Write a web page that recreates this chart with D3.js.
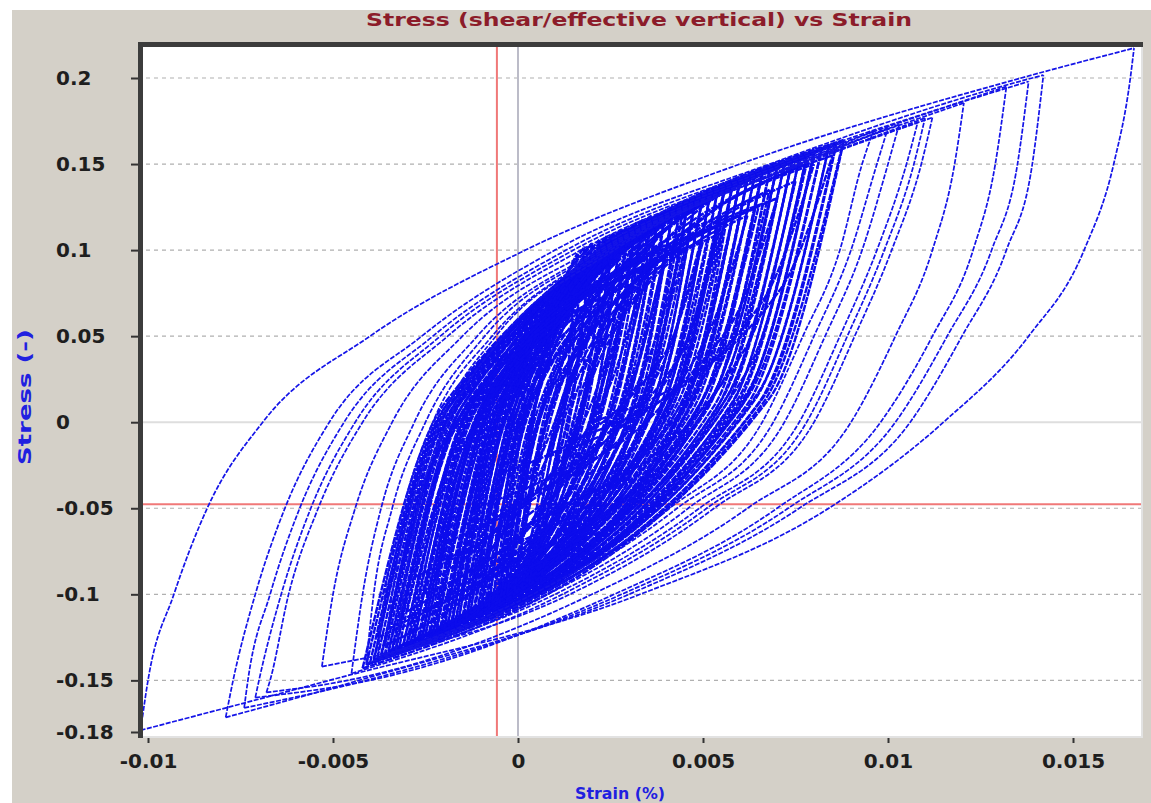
<!DOCTYPE html>
<html>
<head>
<meta charset="utf-8">
<title>Stress vs Strain</title>
<style>
body { margin: 0; background: #fff; }
.lbl { font-family: 'DejaVu Sans', sans-serif; font-weight: bold; }
</style>
</head>
<body>
<svg width="1151" height="803"></svg>
<script src="https://d3js.org/d3.v7.min.js"></script>
<script>

// ---- axis ticks ----
var yTicks = [0.2, 0.15, 0.1, 0.05, 0, -0.05, -0.1, -0.15, -0.18];
var yTickLabels = ["0.2", "0.15", "0.1", "0.05", "0", "-0.05", "-0.1", "-0.15", "-0.18"];
var xTicks = [-0.01, -0.005, 0, 0.005, 0.01, 0.015];
var xTickLabels = ["-0.01", "-0.005", "0", "0.005", "0.01", "0.015"];
var gridLevels = [0.2, 0.15, 0.1, 0.05, -0.05, -0.1, -0.15];
var cursorStrain = -0.00057, cursorStress = -0.0477;

// ---- large loops: reversal points + strain where each branch crosses a stress level ----
var upLevels = [-0.15, -0.1, -0.05, 0, 0.05, 0.1, 0.15, 0.2];
var downLevels = [0.2, 0.15, 0.1, 0.05, 0, -0.05, -0.1, -0.15];
var bigBottom = [[-0.0102, -0.179], [-0.0079, -0.1715], [-0.0074, -0.166], [-0.0071, -0.160],
  [-0.0068, -0.157], [-0.0053, -0.142], [-0.0045, -0.146], [-0.0041, -0.140],
  [-0.0038, -0.137], [-0.0036, -0.135], [-0.0033, -0.133]];
var bigTop = [[0.01665, 0.2174], [0.0142, 0.2017], [0.0138, 0.198], [0.0132, 0.195],
  [0.01205, 0.1855], [0.0112, 0.177], [0.0110, 0.1767], [0.0108, 0.174],
  [0.0103, 0.173], [0.0100, 0.171], [0.0096, 0.169]];
var bigUp = [
  [-0.0100, -0.0093, -0.0084, -0.0069, -0.0040, 0.0002, 0.0060, 0.0136],
  [-0.0077, -0.0071, -0.0063, -0.0051, -0.0026, 0.0010, 0.0068, 0.0139],
  [-0.0073, -0.0067, -0.0059, -0.0047, -0.0023, 0.0013, 0.0070, null],
  [-0.0070, -0.0064, -0.0056, -0.0044, -0.0021, 0.0015, 0.0072, null],
  [-0.0067, -0.0062, -0.0054, -0.0042, -0.0019, 0.0017, 0.0074, null],
  [null, -0.0050, -0.0044, -0.0034, -0.0015, 0.0020, 0.0076, null],
  [null, -0.0042, -0.0037, -0.0028, -0.0011, 0.0022, 0.0077, null],
  [null, -0.0039, -0.0034, -0.0025, -0.0009, 0.0023, 0.0077, null],
  [null, -0.0036, -0.0031, -0.0023, -0.0007, 0.0024, 0.0076, null],
  [null, -0.0034, -0.0029, -0.0021, -0.0006, 0.0025, 0.0076, null],
  [null, -0.0031, -0.0027, -0.0019, -0.0004, 0.0026, 0.0075, null]
];
var bigDown = [
  [0.01655, 0.0161, 0.0153, 0.0138, 0.0115, 0.0084, 0.0033, -0.0051],
  [null, 0.0139, 0.0132, 0.0120, 0.0106, 0.0076, 0.0030, -0.0043],
  [null, 0.0135, 0.0128, 0.0116, 0.0102, 0.0073, 0.0028, -0.0041],
  [null, 0.0129, 0.0123, 0.0112, 0.0098, 0.0070, 0.0026, -0.0040],
  [null, 0.0118, 0.0112, 0.0102, 0.0090, 0.0062, 0.0020, -0.0046],
  [null, 0.0109, 0.0101, 0.0091, 0.0080, 0.0053, 0.0014, null],
  [null, 0.0107, 0.0099, 0.0089, 0.0078, 0.0051, 0.0012, null],
  [null, 0.0105, 0.0097, 0.0087, 0.0076, 0.0049, 0.0010, null],
  [null, 0.0100, 0.0093, 0.0083, 0.0072, 0.0046, 0.0008, null],
  [null, 0.0097, 0.0090, 0.0080, 0.0069, 0.0043, 0.0006, null],
  [null, 0.0093, 0.0087, 0.0077, 0.0066, 0.0041, 0.0004, null]
];

// ---- dense core loops: bottom / top reversal, strain of up & down branch at mid stress ----
var coreBottom = [[-0.0040, -0.140], [-0.0038, -0.137], [-0.0036, -0.136], [-0.0035, -0.134], [-0.0033, -0.133],
  [-0.0032, -0.130], [-0.0030, -0.131], [-0.0029, -0.128], [-0.0028, -0.127], [-0.0027, -0.129],
  [-0.0026, -0.125], [-0.0025, -0.124], [-0.0024, -0.126], [-0.0023, -0.122], [-0.0022, -0.121],
  [-0.0021, -0.123], [-0.0020, -0.119], [-0.0019, -0.118], [-0.0018, -0.120], [-0.0017, -0.116],
  [-0.0016, -0.115], [-0.0015, -0.117], [-0.0014, -0.113], [-0.0013, -0.112], [-0.0012, -0.114],
  [-0.0011, -0.110], [-0.0010, -0.109], [-0.0009, -0.111], [-0.0008, -0.107], [-0.0007, -0.106],
  [-0.0006, -0.108], [-0.0005, -0.104], [-0.0004, -0.103], [-0.0003, -0.105], [-0.0002, -0.101],
  [0.0000, -0.100], [0.0002, -0.098], [0.0004, -0.096], [-0.0042, -0.143], [-0.0039, -0.139],
  [-0.0037, -0.137], [-0.0034, -0.132], [-0.0031, -0.130], [-0.0026, -0.125], [-0.0022, -0.121],
  [-0.0018, -0.118], [-0.0014, -0.114], [-0.0010, -0.110], [-0.0006, -0.107], [-0.0002, -0.103],
  [-0.0020, -0.080], [-0.0015, -0.060], [-0.0010, -0.090], [-0.0025, -0.100], [0.0000, -0.070],
  [-0.0030, -0.110], [0.0005, -0.040], [-0.0005, -0.085], [0.0010, -0.050], [-0.0035, -0.120],
  [-0.0041, -0.141], [-0.0039, -0.138], [-0.0037, -0.135], [-0.0035, -0.133], [-0.0034, -0.134],
  [-0.0033, -0.131], [-0.0031, -0.129], [-0.0030, -0.128], [-0.0029, -0.130], [-0.0028, -0.126],
  [-0.0027, -0.125], [-0.0026, -0.127], [-0.0025, -0.123], [-0.0024, -0.122], [-0.0023, -0.124],
  [-0.0022, -0.120], [-0.0021, -0.119], [-0.0020, -0.121], [-0.0019, -0.117], [-0.0018, -0.116],
  [-0.0017, -0.118], [-0.0016, -0.114], [-0.0015, -0.113], [-0.0014, -0.115], [-0.0013, -0.111],
  [-0.0012, -0.110], [-0.0011, -0.112], [-0.0010, -0.108], [-0.0009, -0.107], [-0.0008, -0.109],
  [-0.0007, -0.105], [-0.0006, -0.104], [-0.0005, -0.106], [-0.0004, -0.102], [-0.0003, -0.101],
  [-0.0001, -0.099], [0.0001, -0.097], [0.0003, -0.095], [0.0006, -0.094], [-0.0038, -0.125],
  [-0.0032, -0.115], [-0.0028, -0.090], [-0.0020, -0.070], [-0.0012, -0.050], [-0.0005, -0.030],
  [0.0002, -0.060], [0.0008, -0.020], [-0.0015, -0.095], [-0.0008, -0.080], [0.0015, -0.010],
  [-0.0025, -0.110], [0.0000, -0.085], [-0.0036, -0.130], [0.0012, -0.030], [-0.0018, -0.100],
  [0.0005, -0.075], [-0.0010, -0.060], [0.0020, 0.000], [-0.0022, -0.090], [-0.0003, -0.090]];
var coreTop = [[0.0086, 0.162], [0.0082, 0.158], [0.0078, 0.155], [0.0084, 0.160], [0.0074, 0.152],
  [0.0070, 0.149], [0.0080, 0.156], [0.0066, 0.146], [0.0062, 0.142], [0.0076, 0.153],
  [0.0058, 0.138], [0.0072, 0.150], [0.0054, 0.135], [0.0068, 0.146], [0.0050, 0.132],
  [0.0064, 0.143], [0.0046, 0.128], [0.0060, 0.140], [0.0042, 0.125], [0.0056, 0.137],
  [0.0038, 0.121], [0.0052, 0.134], [0.0034, 0.118], [0.0048, 0.130], [0.0030, 0.114],
  [0.0044, 0.127], [0.0026, 0.110], [0.0040, 0.123], [0.0022, 0.106], [0.0036, 0.120],
  [0.0032, 0.116], [0.0018, 0.102], [0.0028, 0.112], [0.0024, 0.108], [0.0020, 0.104],
  [0.0016, 0.098], [0.0045, 0.128], [0.0052, 0.133], [0.0088, 0.164], [0.0072, 0.150],
  [0.0066, 0.146], [0.0060, 0.141], [0.0056, 0.138], [0.0084, 0.160], [0.0080, 0.156],
  [0.0074, 0.151], [0.0070, 0.148], [0.0066, 0.145], [0.0062, 0.141], [0.0058, 0.138],
  [0.0040, 0.100], [0.0050, 0.110], [0.0035, 0.090], [0.0030, 0.080], [0.0060, 0.120],
  [0.0020, 0.070], [0.0055, 0.110], [0.0070, 0.130], [0.0075, 0.140], [0.0035, 0.090],
  [0.0080, 0.157], [0.0076, 0.153], [0.0088, 0.163], [0.0068, 0.147], [0.0086, 0.161],
  [0.0064, 0.144], [0.0082, 0.158], [0.0060, 0.140], [0.0078, 0.154], [0.0056, 0.137],
  [0.0074, 0.151], [0.0052, 0.133], [0.0070, 0.148], [0.0048, 0.130], [0.0066, 0.144],
  [0.0044, 0.126], [0.0062, 0.141], [0.0040, 0.122], [0.0058, 0.138], [0.0036, 0.119],
  [0.0054, 0.135], [0.0032, 0.115], [0.0050, 0.132], [0.0028, 0.112], [0.0046, 0.128],
  [0.0024, 0.108], [0.0042, 0.125], [0.0020, 0.104], [0.0038, 0.121], [0.0034, 0.117],
  [0.0030, 0.113], [0.0026, 0.109], [0.0046, 0.129], [0.0050, 0.132], [0.0042, 0.124],
  [0.0038, 0.120], [0.0056, 0.137], [0.0048, 0.130], [0.0060, 0.140], [0.0040, 0.095],
  [0.0045, 0.100], [0.0030, 0.085], [0.0045, 0.105], [0.0055, 0.115], [0.0050, 0.105],
  [0.0065, 0.125], [0.0070, 0.130], [0.0025, 0.070], [0.0030, 0.075], [0.0080, 0.150],
  [0.0015, 0.060], [0.0040, 0.100], [0.0025, 0.075], [0.0062, 0.120], [0.0055, 0.120],
  [0.0068, 0.135], [0.0035, 0.095], [0.0085, 0.155], [0.0020, 0.080], [0.0078, 0.150]];
var coreUpMid = [-0.0019, -0.0018, -0.0017, -0.0015, -0.0015, -0.0015, -0.0011, -0.0013, -0.0012, -0.0009,
  -0.0009, -0.0008, -0.0008, -0.0007, -0.0008, -0.0004, -0.0007, -0.0003, -0.0006, -0.0002,
  -0.0005, -0.0002, -0.0002, -0.0001, -0.0002, 0.0000, -0.0001, 0.0003, 0.0000, 0.0004,
  0.0004, 0.0001, 0.0004, 0.0004, 0.0004, 0.0004, 0.0013, 0.0016, -0.0020, -0.0020,
  -0.0019, -0.0018, -0.0014, -0.0007, -0.0005, -0.0002, 0.0003, 0.0005, 0.0008, 0.0010,
  -0.0008, -0.0002, 0.0001, -0.0014, 0.0012, -0.0018, 0.0017, 0.0010, 0.0023, -0.0021,
  -0.0020, -0.0019, -0.0016, -0.0017, -0.0013, -0.0016, -0.0011, -0.0014, -0.0010, -0.0012,
  -0.0009, -0.0011, -0.0008, -0.0010, -0.0006, -0.0009, -0.0005, -0.0007, -0.0004, -0.0006,
  -0.0003, -0.0004, -0.0002, -0.0004, 0.0000, -0.0003, 0.0001, -0.0002, 0.0002, 0.0001,
  0.0002, 0.0002, 0.0006, 0.0008, 0.0007, 0.0008, 0.0013, 0.0013, 0.0018, -0.0024,
  -0.0018, -0.0017, -0.0008, 0.0000, 0.0006, 0.0014, 0.0021, -0.0007, 0.0000, 0.0028,
  -0.0016, 0.0009, -0.0024, 0.0024, -0.0005, 0.0017, -0.0001, 0.0032, -0.0012, 0.0010];
var coreDownMid = [0.0065, 0.0062, 0.0059, 0.0064, 0.0056, 0.0053, 0.0061, 0.0050, 0.0046, 0.0058,
  0.0041, 0.0055, 0.0038, 0.0052, 0.0036, 0.0047, 0.0033, 0.0044, 0.0030, 0.0041,
  0.0027, 0.0039, 0.0022, 0.0036, 0.0020, 0.0033, 0.0017, 0.0028, 0.0015, 0.0025,
  0.0022, 0.0012, 0.0020, 0.0017, 0.0014, 0.0012, 0.0034, 0.0040, 0.0066, 0.0053,
  0.0048, 0.0044, 0.0039, 0.0065, 0.0062, 0.0057, 0.0053, 0.0051, 0.0048, 0.0046,
  0.0028, 0.0037, 0.0024, 0.0019, 0.0048, 0.0008, 0.0043, 0.0055, 0.0062, 0.0021,
  0.0060, 0.0057, 0.0068, 0.0051, 0.0066, 0.0047, 0.0062, 0.0044, 0.0059, 0.0041,
  0.0056, 0.0038, 0.0052, 0.0035, 0.0049, 0.0031, 0.0046, 0.0028, 0.0043, 0.0025,
  0.0040, 0.0022, 0.0037, 0.0019, 0.0034, 0.0016, 0.0031, 0.0013, 0.0027, 0.0024,
  0.0021, 0.0018, 0.0034, 0.0038, 0.0031, 0.0028, 0.0043, 0.0036, 0.0047, 0.0024,
  0.0029, 0.0017, 0.0031, 0.0042, 0.0039, 0.0052, 0.0057, 0.0014, 0.0019, 0.0066,
  0.0004, 0.0029, 0.0012, 0.0050, 0.0041, 0.0054, 0.0024, 0.0071, 0.0009, 0.0062];

var svg = d3.select("svg");
var frame = {left: 138, top: 42, right: 1143, bottom: 738};

var x = d3.scaleLinear().domain([-0.01, 0.015]).range([148, 1073]);
var y = d3.scaleLinear().domain([-0.18, 0.2]).range([732, 78]);

// window background
svg.append("rect").attr("x", 12).attr("y", 10).attr("width", 1139).attr("height", 793)
  .attr("fill", "#d4d0c8");

// title
svg.append("text").attr("class", "lbl")
  .attr("x", 639).attr("y", 26).attr("text-anchor", "middle")
  .attr("font-size", 17).attr("fill", "#8c1c2a")
  .attr("textLength", 546).attr("lengthAdjust", "spacingAndGlyphs")
  .text("Stress (shear/effective vertical) vs Strain");

// plot area
svg.append("rect").attr("x", frame.left).attr("y", frame.top)
  .attr("width", frame.right - frame.left).attr("height", frame.bottom - frame.top)
  .attr("fill", "#ffffff");
svg.append("path")
  .attr("d", "M" + (frame.right - 1) + "," + frame.top + "V" + (frame.bottom - 1) + "H" + frame.left)
  .attr("fill", "none").attr("stroke", "#e2e2e2").attr("stroke-width", 2);

svg.append("clipPath").attr("id", "plot-clip").append("rect")
  .attr("x", frame.left + 4).attr("y", frame.top + 4)
  .attr("width", frame.right - frame.left - 6).attr("height", frame.bottom - frame.top - 6);

var plot = svg.append("g").attr("clip-path", "url(#plot-clip)");

// grid
plot.selectAll(".grid").data(gridLevels).enter().append("line")
  .attr("x1", frame.left).attr("x2", frame.right)
  .attr("y1", function(d) { return y(d); }).attr("y2", function(d) { return y(d); })
  .attr("stroke", "#b0b0b0").attr("stroke-width", 1.2).attr("stroke-dasharray", "4,4");
plot.append("line").attr("x1", frame.left).attr("x2", frame.right)
  .attr("y1", y(0)).attr("y2", y(0)).attr("stroke", "#dedede").attr("stroke-width", 2);
plot.append("line").attr("y1", frame.top).attr("y2", frame.bottom)
  .attr("x1", x(0)).attr("x2", x(0)).attr("stroke", "#bcbcc8").attr("stroke-width", 2);

// cursor cross
plot.append("line").attr("x1", frame.left).attr("x2", frame.right)
  .attr("y1", y(cursorStress)).attr("y2", y(cursorStress))
  .attr("stroke", "#f07878").attr("stroke-width", 2);
plot.append("line").attr("y1", frame.top).attr("y2", frame.bottom)
  .attr("x1", x(cursorStrain)).attr("x2", x(cursorStrain))
  .attr("stroke", "#f07878").attr("stroke-width", 2);

// hysteresis branches
var line = d3.line()
  .x(function(d) { return x(d[0]); })
  .y(function(d) { return y(d[1]); })
  .curve(d3.curveMonotoneX);

function branch(start, crossings, levels, end) {
  var pts = [start];
  crossings.forEach(function(e, i) { if (e !== null) pts.push([e, levels[i]]); });
  pts.push(end);
  return pts.sort(function(a, b) { return a[0] - b[0]; });
}

var bigBranches = [], coreBranches = [];
bigBottom.forEach(function(b, i) {
  bigBranches.push(branch(b, bigUp[i], upLevels, bigTop[i]));
  bigBranches.push(branch(bigTop[i], bigDown[i], downLevels, b));
});
coreBottom.forEach(function(b, i) {
  var t = coreTop[i], mid = (b[1] + t[1]) / 2;
  coreBranches.push(branch(b, [coreUpMid[i]], [mid], t));
  coreBranches.push(branch(t, [coreDownMid[i]], [mid], b));
});

plot.selectAll(".core").data(coreBranches).enter().append("path")
  .attr("class", "core")
  .attr("d", line)
  .attr("fill", "none")
  .attr("stroke", "#0c0cec")
  .attr("stroke-width", 2.4)
  .attr("stroke-dasharray", "7,1");

plot.selectAll(".big").data(bigBranches).enter().append("path")
  .attr("class", "big")
  .attr("d", line)
  .attr("fill", "none")
  .attr("stroke", "#1414e8")
  .attr("stroke-width", 1.7)
  .attr("stroke-dasharray", "5,1.5");

// frame shadow (left & top)
svg.append("path")
  .attr("d", "M" + (frame.left + 2.5) + "," + frame.bottom + "V" + (frame.top + 2.5) + "H" + frame.right)
  .attr("fill", "none").attr("stroke", "#3c3c3c").attr("stroke-width", 5);

// axes
var yAxis = svg.append("g").attr("transform", "translate(" + frame.left + ",0)")
  .call(d3.axisLeft(y).tickValues(yTicks)
    .tickFormat(function(d, i) { return yTickLabels[i]; })
    .tickSize(7).tickPadding(0));
yAxis.select(".domain").remove();
yAxis.selectAll(".tick line").attr("stroke", "#333").attr("stroke-width", 2);
yAxis.selectAll(".tick text").attr("class", "lbl")
  .attr("text-anchor", "start").attr("x", 56 - frame.left)
  .attr("font-size", 20).attr("fill", "#1e1e1e");

var xAxis = svg.append("g").attr("transform", "translate(0," + frame.bottom + ")")
  .call(d3.axisBottom(x).tickValues(xTicks)
    .tickFormat(function(d, i) { return xTickLabels[i]; })
    .tickSize(5).tickPadding(11));
xAxis.select(".domain").remove();
xAxis.selectAll(".tick line").attr("stroke", "#333").attr("stroke-width", 2);
xAxis.selectAll(".tick text").attr("class", "lbl")
  .attr("font-size", 20).attr("fill", "#1e1e1e");

// axis titles
svg.append("text").attr("class", "lbl")
  .attr("x", 620).attr("y", 799).attr("text-anchor", "middle")
  .attr("font-size", 15).attr("fill", "#2020e0")
  .attr("textLength", 90).attr("lengthAdjust", "spacingAndGlyphs")
  .text("Strain (%)");
svg.append("text").attr("class", "lbl")
  .attr("transform", "translate(31,397) rotate(-90)").attr("text-anchor", "middle")
  .attr("font-size", 18).attr("fill", "#2020e0")
  .attr("textLength", 136).attr("lengthAdjust", "spacingAndGlyphs")
  .text("Stress (-)");

</script>
</body>
</html>
